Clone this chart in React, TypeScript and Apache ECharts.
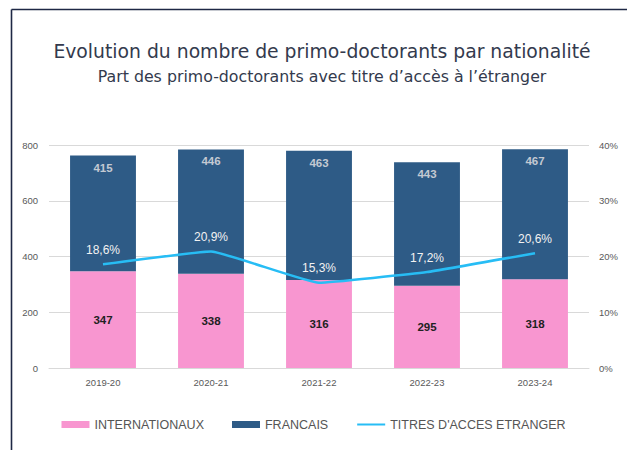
import React, { useEffect, useRef } from "react";
import * as echarts from "echarts";

const categories = ["2019-20", "2020-21", "2021-22", "2022-23", "2023-24"];
const internationaux = [347, 338, 316, 295, 318];
const francais = [415, 446, 463, 443, 467];
const titresPct = [0.186, 0.209, 0.153, 0.172, 0.206];
const leftTicks = { min: 0, max: 800, interval: 200 };
const rightTicks = { min: 0, max: 0.4, interval: 0.1 };

const FONT = "'DejaVu Sans', 'Open Sans', sans-serif";
const AXFONT = "'Liberation Sans', 'Noto Sans', sans-serif";

export default function App() {
  const ref = useRef<HTMLDivElement>(null);
  useEffect(() => {
    document.body.style.margin = "0";
    if (!ref.current) return;
    const chart = echarts.init(ref.current, null, { renderer: "svg" });
    chart.setOption({
      animation: false,
      backgroundColor: "#ffffff",
      title: [
        {
          text: "Evolution du nombre de primo-doctorants par nationalité",
          left: 317,
          top: 37,
          textAlign: "center",
          textStyle: { fontFamily: FONT, fontSize: 18.8, fontWeight: "normal", color: "#333a4d" },
        },
        {
          text: "Part des primo-doctorants avec titre d’accès à l’étranger",
          left: 317,
          top: 63,
          textAlign: "center",
          textStyle: { fontFamily: FONT, fontSize: 15.8, fontWeight: "normal", color: "#333a4d" },
        },
      ],
      graphic: [
        { type: "line", shape: { x1: 11.5, y1: 9.5, x2: 627, y2: 9.5 }, style: { stroke: "#1e2845", lineWidth: 1.6 } },
        { type: "line", shape: { x1: 11.5, y1: 9.5, x2: 11.5, y2: 450 }, style: { stroke: "#1e2845", lineWidth: 1.6 } },
      ],
      legend: {
        bottom: 14,
        left: "center",
        itemWidth: 28,
        itemHeight: 7,
        itemGap: 28,
        textStyle: { fontFamily: AXFONT, fontSize: 12.5, color: "#555555" },
        data: [
          { name: "INTERNATIONAUX", icon: "rect" },
          { name: "FRANCAIS", icon: "rect" },
          { name: "TITRES D'ACCES ETRANGER" },
        ],
      },
      grid: { left: 49, right: 38, top: 145, bottom: 82 },
      xAxis: {
        type: "category",
        data: categories,
        axisTick: { show: false },
        axisLine: { lineStyle: { color: "#d9d9d9" } },
        axisLabel: { fontFamily: AXFONT, fontSize: 9.5, color: "#595959", margin: 9 },
      },
      yAxis: [
        {
          type: "value",
          ...leftTicks,
          axisLine: { show: false },
          axisTick: { show: false },
          splitLine: { lineStyle: { color: "#d9d9d9" } },
          axisLabel: { fontFamily: AXFONT, fontSize: 9.5, color: "#595959", margin: 11 },
        },
        {
          type: "value",
          ...rightTicks,
          axisLine: { show: false },
          axisTick: { show: false },
          splitLine: { show: false },
          axisLabel: {
            fontFamily: AXFONT,
            fontSize: 9.5,
            color: "#595959",
            margin: 10,
            formatter: (v: number) => Math.round(v * 100) + "%",
          },
        },
      ],
      series: [
        {
          name: "INTERNATIONAUX",
          type: "bar",
          stack: "total",
          barWidth: "61%",
          data: internationaux,
          itemStyle: { color: "#f896d0" },
          label: {
            show: true,
            position: "inside",
            fontFamily: AXFONT,
            fontSize: 11.5,
            fontWeight: 600,
            color: "#222222",
          },
        },
        {
          name: "FRANCAIS",
          type: "bar",
          stack: "total",
          data: francais,
          itemStyle: { color: "#2e5b86" },
          label: {
            show: true,
            position: "insideTop",
            distance: 6,
            fontFamily: AXFONT,
            fontSize: 11.5,
            fontWeight: "bold",
            color: "#c3c9d2",
          },
        },
        {
          name: "TITRES D'ACCES ETRANGER",
          type: "line",
          yAxisIndex: 1,
          data: titresPct,
          smooth: 0.1,
          symbol: "circle",
          symbolSize: 1,
          showSymbol: true,
          lineStyle: { color: "#27bdf5", width: 2.5 },
          itemStyle: { color: "#27bdf5", opacity: 0 },
          label: {
            show: true,
            position: "top",
            distance: 8,
            fontFamily: AXFONT,
            fontSize: 12,
            color: "#f2f2f2",
            opacity: 1,
            formatter: (p: any) => (p.value * 100).toFixed(1).replace(".", ",") + "%",
          },
        },
      ],
    });
    return () => chart.dispose();
  }, []);
  return <div ref={ref} style={{ width: 627, height: 450 }} />;
}
